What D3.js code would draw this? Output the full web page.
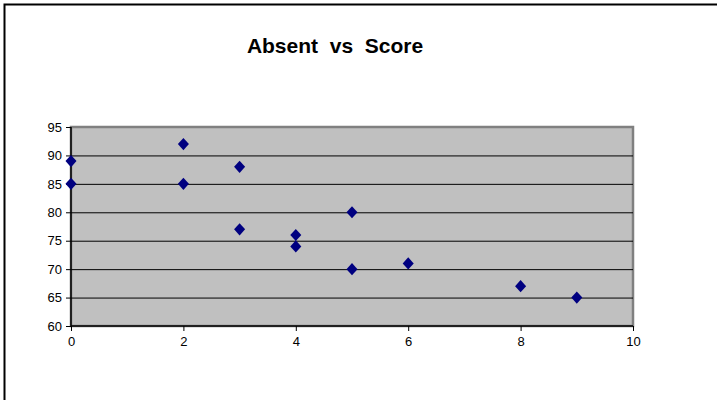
<!DOCTYPE html>
<html><head><meta charset="utf-8">
<script src="https://cdn.jsdelivr.net/npm/d3@7"></script>
<style>body{margin:0;background:#fff}svg{display:block}text{font-family:Arial,"Liberation Sans",sans-serif}</style>
</head><body>
<svg id="c" width="717" height="400"></svg>
<script>
const absent = [0, 0, 2, 2, 3, 3, 4, 4, 5, 5, 6, 8, 9];
const score  = [89, 85, 92, 85, 88, 77, 76, 74, 80, 70, 71, 67, 65];
const xTicks = [0, 2, 4, 6, 8, 10];
const yTicks = [60, 65, 70, 75, 80, 85, 90, 95];
const title = "Absent  vs  Score";

const svg = d3.select("#c");
const L = 71, R = 633, T = 127, B = 326;
const x = d3.scaleLinear().domain([0, 10]).range([L, R]);
const y = d3.scaleLinear().domain([60, 95]).range([B, T]);

// outer chart border
svg.append("rect").attr("x", 4.5).attr("y", 4.5).attr("width", 740).attr("height", 420)
  .attr("fill", "#fff").attr("stroke", "#000").attr("stroke-width", 2);

// plot area
svg.append("rect").attr("x", L).attr("y", T).attr("width", R - L).attr("height", B - T)
  .attr("fill", "#c0c0c0").attr("stroke", "#808080").attr("stroke-width", 2.5);

// gridlines
svg.append("g").selectAll("line").data(yTicks.filter(d => d > 60 && d < 95)).join("line")
  .attr("x1", L).attr("x2", R).attr("y1", d => y(d) + 0.5).attr("y2", d => y(d) + 0.5)
  .attr("stroke", "#000").attr("stroke-width", 1);

// axes
const yAxis = d3.axisLeft(y).tickValues(yTicks).tickSize(5).tickPadding(4).tickFormat(d3.format("d"));
const xAxis = d3.axisBottom(x).tickValues(xTicks).tickSize(5).tickPadding(6).tickFormat(d3.format("d"));
const gy = svg.append("g").attr("transform", `translate(${L},0)`).call(yAxis);
const gx = svg.append("g").attr("transform", `translate(0,${B})`).call(xAxis);
[gy, gx].forEach(g => {
  g.select(".domain").attr("stroke", "#000").attr("stroke-width", 1.5);
  g.selectAll(".tick line").attr("stroke", "#000");
  g.selectAll(".tick text").attr("font-size", 13).attr("fill", "#000")
   .attr("font-family", "Arial, 'Liberation Sans', sans-serif");
});
gy.select(".domain").attr("d", `M0,${T}V${B}`);
gx.select(".domain").attr("d", `M${L},0H${R}`);

// points
const sym = d3.symbol().type(d3.symbolDiamond2).size(78);
svg.append("g").selectAll("path").data(absent.map((a, i) => [a, score[i]])).join("path")
  .attr("d", sym)
  .attr("transform", d => `translate(${x(d[0])},${y(d[1])}) scale(1,1.1)`)
  .attr("fill", "#000080");

// title
svg.append("text").attr("x", 335).attr("y", 53).attr("text-anchor", "middle")
  .attr("font-size", 21).attr("font-weight", "bold").attr("fill", "#000")
  .style("white-space", "pre").attr("xml:space", "preserve").text(title);
</script>
</body></html>
